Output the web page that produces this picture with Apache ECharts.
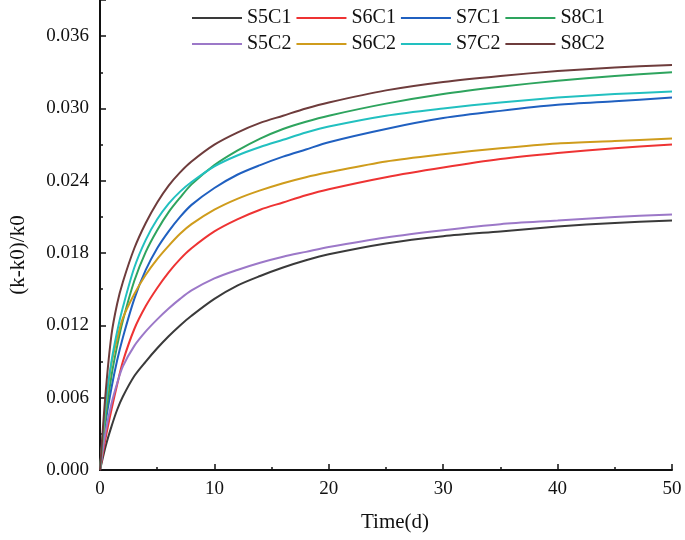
<!DOCTYPE html>
<html>
<head>
<meta charset="utf-8">
<script src="https://cdn.jsdelivr.net/npm/echarts@6/dist/echarts.min.js"></script>
<style>html,body{margin:0;padding:0;background:#fff}#c{width:685px;height:540px}</style>
</head>
<body>
<div id="c"></div>
<script>
const seriesNames = ['S5C1','S6C1','S7C1','S8C1','S5C2','S6C2','S7C2','S8C2'];
const timeDays = [0,0.5,1,1.5,2,3,4,5,6,7,8,10,12,14,16,18,20,25,30,35,40,45,50];
const S5C1 = [0,0.0020,0.0036,0.0050,0.0061,0.0078,0.0090,0.0101,0.0111,0.0120,0.0128,0.0142,0.0153,0.0161,0.0168,0.0174,0.0179,0.0188,0.0194,0.0198,0.0202,0.0205,0.0207];
const S6C1 = [0,0.0027,0.0050,0.0071,0.0090,0.0117,0.0136,0.0151,0.0164,0.0175,0.0184,0.0198,0.0208,0.0216,0.0222,0.0228,0.0233,0.0243,0.0251,0.0258,0.0263,0.0267,0.0270];
const S7C1 = [0,0.0040,0.0068,0.0091,0.0110,0.0142,0.0166,0.0184,0.0198,0.0210,0.0220,0.0234,0.0245,0.0253,0.0260,0.0266,0.0272,0.0283,0.0292,0.0298,0.0303,0.0306,0.0309];
const S8C1 = [0,0.0045,0.0078,0.0103,0.0124,0.0157,0.0181,0.0199,0.0214,0.0226,0.0237,0.0253,0.0265,0.0275,0.0283,0.0289,0.0294,0.0304,0.0312,0.0318,0.0323,0.0327,0.0330];
const S5C2 = [0,0.0032,0.0055,0.0072,0.0086,0.0103,0.0115,0.0125,0.0134,0.0142,0.0149,0.0159,0.0166,0.0172,0.0177,0.0181,0.0185,0.0193,0.0199,0.0204,0.0207,0.0210,0.0212];
const S6C2 = [0,0.0052,0.0088,0.0109,0.0126,0.0146,0.0162,0.0175,0.0186,0.0196,0.0204,0.0216,0.0225,0.0232,0.0238,0.0243,0.0247,0.0256,0.0262,0.0267,0.0271,0.0273,0.0275];
const S7C2 = [0,0.0055,0.0090,0.0115,0.0135,0.0168,0.0191,0.0208,0.0221,0.0231,0.0239,0.0252,0.0261,0.0268,0.0274,0.0280,0.0285,0.0294,0.0300,0.0305,0.0309,0.0312,0.0314];
const S8C2 = [0,0.0065,0.0112,0.0138,0.0156,0.0184,0.0205,0.0222,0.0236,0.0247,0.0256,0.0270,0.0280,0.0288,0.0294,0.0300,0.0305,0.0315,0.0322,0.0327,0.0331,0.0334,0.0336];
const seriesValues = [S5C1,S6C1,S7C1,S8C1,S5C2,S6C2,S7C2,S8C2];
const seriesColors = ['#3a3a3a','#ee3333','#2060c0','#2ea45e','#9c78c8','#cf9c1c','#22c0c0','#6e3c3c'];

const FONT = '"Liberation Serif", "Times New Roman", serif';
const chart = echarts.init(document.getElementById('c'));
const series = seriesNames.map((n, i) => ({
  name: n,
  type: 'line',
  smooth: 0.3,
  symbol: 'none',
  lineStyle: { width: 2, color: seriesColors[i] },
  itemStyle: { color: seriesColors[i] },
  data: timeDays.map((t, j) => [t, seriesValues[i][j]])
}));
const legendCommon = {
  left: 192, orient: 'horizontal', icon: 'rect', itemWidth: 50, itemHeight: 2, itemGap: 5,
  textStyle: { fontFamily: FONT, fontSize: 20, color: '#111', lineHeight: 20 },
  padding: 0
};
chart.setOption({
  animation: false,
  backgroundColor: '#fff',
  grid: { left: 100, right: 13, top: 0, bottom: 70, containLabel: false },
  legend: [
    Object.assign({}, legendCommon, { top: 8, data: seriesNames.slice(0, 4) }),
    Object.assign({}, legendCommon, { top: 34, data: seriesNames.slice(4, 8) })
  ],
  xAxis: {
    type: 'value', min: 0, max: 50, interval: 10,
    axisLine: { show: true, lineStyle: { color: '#111', width: 2 } },
    axisTick: { show: true, inside: true, length: 6, lineStyle: { color: '#111', width: 1.5 } },
    minorTick: { show: true, splitNumber: 2, length: 3, lineStyle: { color: '#111', width: 1.5 } },
    splitLine: { show: false },
    axisLabel: { fontFamily: FONT, fontSize: 19, color: '#111', margin: 10 }
  },
  yAxis: {
    type: 'value', min: 0, max: 0.039, interval: 0.006,
    axisLine: { show: true, lineStyle: { color: '#111', width: 2 } },
    axisTick: { show: true, inside: true, length: 6, lineStyle: { color: '#111', width: 1.5 } },
    minorTick: { show: true, splitNumber: 2, length: 3, lineStyle: { color: '#111', width: 1.5 } },
    splitLine: { show: false },
    axisLabel: { fontFamily: FONT, fontSize: 19, color: '#111', margin: 11, showMaxLabel: false,
      formatter: v => v.toFixed(3) }
  },
  graphic: [
    { type: 'text', x: 18, y: 255, rotation: Math.PI / 2,
      style: { text: '(k-k0)/k0', font: '21px ' + FONT, fill: '#111', align: 'center', verticalAlign: 'middle' } },
    { type: 'text', x: 395, y: 522,
      style: { text: 'Time(d)', font: '21px ' + FONT, fill: '#111', align: 'center', verticalAlign: 'middle' } }
  ],
  series: series
});
</script>
</body>
</html>
